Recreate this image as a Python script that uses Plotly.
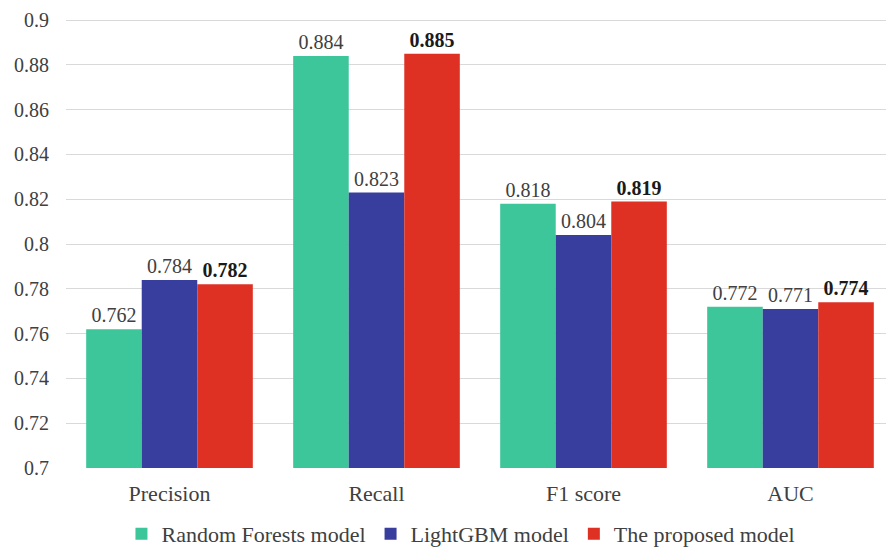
import plotly.graph_objects as go

categories = ["Precision", "Recall", "F1 score", "AUC"]
rf_values = [0.762, 0.884, 0.818, 0.772]
lgbm_values = [0.784, 0.823, 0.804, 0.771]
proposed_values = [0.782, 0.885, 0.819, 0.774]
series_names = ["Random Forests model", "LightGBM model", "The proposed model"]
y_ticks = [0.7, 0.72, 0.74, 0.76, 0.78, 0.8, 0.82, 0.84, 0.86, 0.88, 0.9]
y_tick_labels = ["0.7", "0.72", "0.74", "0.76", "0.78", "0.8", "0.82", "0.84", "0.86", "0.88", "0.9"]

colors = ["#3CC69A", "#383E9E", "#DE3124"]
FF = "Liberation Serif, Times New Roman, serif"

fig = go.Figure()
for name, vals, col, bold in zip(series_names, [rf_values, lgbm_values, proposed_values], colors, [False, False, True]):
    fig.add_trace(go.Bar(
        x=categories, y=vals, name=name, marker=dict(color=col, line=dict(width=0)),
        texttemplate="<b>%{y:.3f}</b>" if bold else "%{y:.3f}",
        textposition="outside", cliponaxis=False,
        textfont=dict(family=FF, size=20, color="#1a1a1a" if bold else "#404040"),
    ))

fig.update_layout(
    width=886, height=547,
    margin=dict(l=58, r=0, t=11, b=83),
    barmode="group", bargap=0.195, bargroupgap=0,
    plot_bgcolor="white", paper_bgcolor="white",
    font=dict(family=FF, size=22, color="#404040"),
    legend=dict(orientation="h", x=0.477, xanchor="center", y=-0.1, yanchor="top",
                font=dict(family=FF, size=22, color="#404040"),
                itemwidth=30, tracegroupgap=0),
    showlegend=True,
)
fig.update_yaxes(range=[0.7, 0.9005], tickvals=y_ticks, ticktext=y_tick_labels, automargin=False,
                 showgrid=True, gridcolor="#D9D9D9", gridwidth=1, zeroline=False,
                 ticklabeloverflow="allow",
                 ticks="", ticklabelstandoff=16, tickfont=dict(family=FF, size=20, color="#404040"))
fig.update_xaxes(showline=False, ticks="", automargin=False, ticklabelstandoff=10,
                 ticklabeloverflow="allow",
                 tickfont=dict(family=FF, size=22, color="#404040"))

fig.write_html("out.html")
